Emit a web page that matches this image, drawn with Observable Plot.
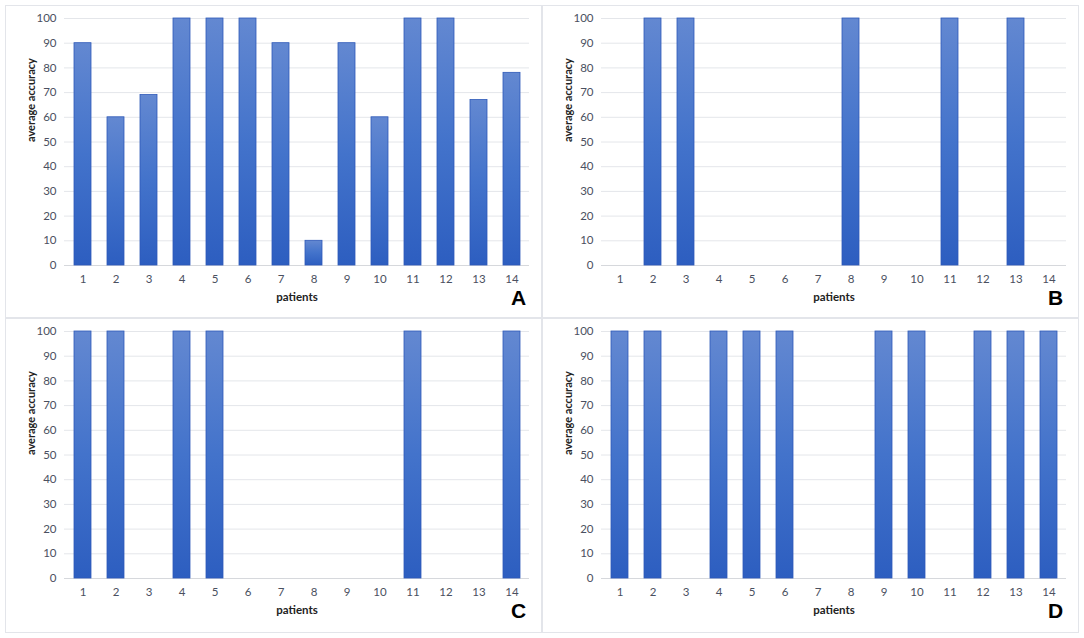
<!DOCTYPE html>
<html>
<head>
<meta charset="utf-8">
<script src="https://cdn.jsdelivr.net/npm/d3@7"></script>
<script src="https://cdn.jsdelivr.net/npm/@observablehq/plot@0.6"></script>
<style>
  html, body { margin: 0; padding: 0; background: #fff; }
  #root { position: relative; width: 1084px; height: 638px; font-family: Lato, "Noto Sans", sans-serif; }
  .panel { position: absolute; box-sizing: border-box; }
  .border { position: absolute; border: 1.5px solid #e3e5ea; box-sizing: border-box; pointer-events: none; }
  .letter { position: absolute; font-family: "Liberation Sans", Arial, sans-serif; font-weight: bold; font-size: 21px; color: #000; }
  .panel svg { position: absolute; left: 0; top: 0; }
</style>
</head>
<body>
<div id="root"></div>
<script>
const patients = [1,2,3,4,5,6,7,8,9,10,11,12,13,14];
const yTicks = [0,10,20,30,40,50,60,70,80,90,100];
const valuesA = [90,60,69,100,100,100,90,10,90,60,100,100,67,78];
const valuesB = [0,100,100,0,0,0,0,100,0,0,100,0,100,0];
const valuesC = [100,100,0,100,100,0,0,0,0,0,100,0,0,100];
const valuesD = [100,100,0,100,100,100,0,0,100,100,0,100,100,100];
const panelLabels = ["A","B","C","D"];
const xLabel = "patients";
const yLabel = "average accuracy";

const panels = [
  {values: valuesA, left: 5,   top: 5,   width: 537, height: 313},
  {values: valuesB, left: 542, top: 5,   width: 537, height: 313},
  {values: valuesC, left: 5,   top: 318, width: 537, height: 314},
  {values: valuesD, left: 542, top: 318, width: 537, height: 314}
];

const root = document.getElementById("root");

const b1 = document.createElement("div");
b1.className = "border";
Object.assign(b1.style, {left: "5px", top: "5px", width: "1074px", height: "628px"});
root.appendChild(b1);
const vline = document.createElement("div");
Object.assign(vline.style, {position: "absolute", left: "541px", top: "5px", width: "1.5px", height: "628px", background: "#e3e5ea"});
root.appendChild(vline);
const hline = document.createElement("div");
Object.assign(hline.style, {position: "absolute", left: "5px", top: "317px", width: "1074px", height: "1.5px", background: "#e3e5ea"});
root.appendChild(hline);

panels.forEach((p, i) => {
  const data = patients.map((pt, j) => ({patient: String(pt), value: p.values[j]}));
  const div = document.createElement("div");
  div.className = "panel";
  Object.assign(div.style, {left: p.left + "px", top: p.top + "px", width: p.width + "px", height: p.height + "px"});
  const gid = "grad" + i;
  const chart = Plot.plot({
    width: p.width,
    height: p.height,
    marginLeft: 59,
    marginRight: 13,
    marginTop: 13,
    marginBottom: p.height - 260,
    style: {fontFamily: "Lato, 'Noto Sans', sans-serif", fontSize: "11.5px", color: "#4a5060", background: "transparent"},
    x: {domain: patients.map(String), paddingInner: 0.5, paddingOuter: 0.25, label: null, tickSize: 0, tickPadding: 9},
    y: {domain: [0, 100], ticks: yTicks, label: null, tickSize: 0, tickPadding: 8},
    marks: [
      Plot.ruleY(yTicks, {stroke: "#e4e6ea", strokeWidth: 1}),
      Plot.ruleY([0], {stroke: "#d6d8dc", strokeWidth: 1.2}),
      Plot.barY(data.filter(d => d.value > 0), {x: "patient", y: "value", fill: `url(#${gid})`, stroke: "#2e59b8", strokeWidth: 0.8}),
      Plot.text([xLabel], {frameAnchor: "bottom", dy: 35, fontWeight: "bold", fontSize: 11.5, fill: "#222"}),
      Plot.text([yLabel], {frameAnchor: "left", dx: -33, rotate: -90, fontWeight: "bold", fontSize: 11, fill: "#222"})
    ]
  });
  const svg = d3.select(chart);
  const defs = svg.insert("defs", ":first-child");
  const lg = defs.append("linearGradient").attr("id", gid).attr("x1", 0).attr("y1", 0).attr("x2", 0).attr("y2", 1);
  lg.append("stop").attr("offset", "0%").attr("stop-color", "#6388d1");
  lg.append("stop").attr("offset", "50%").attr("stop-color", "#4373cb");
  lg.append("stop").attr("offset", "100%").attr("stop-color", "#2d5ec0");
  div.appendChild(chart);
  const letter = document.createElement("div");
  letter.className = "letter";
  letter.textContent = panelLabels[i];
  Object.assign(letter.style, {left: (p.width - 31) + "px", top: "281px"});
  div.appendChild(letter);
  root.appendChild(div);
});
</script>
</body>
</html>
